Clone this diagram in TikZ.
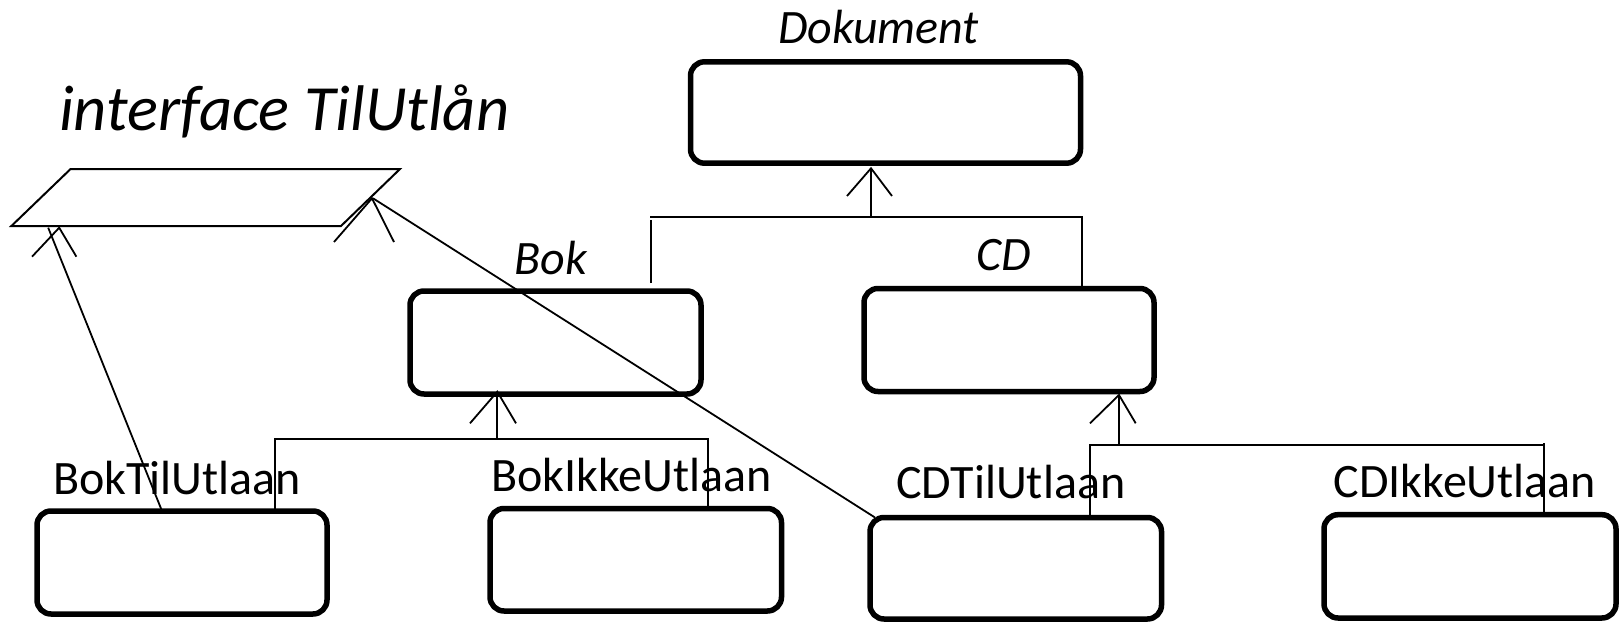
\documentclass[tikz,border=0pt]{standalone}
\usepackage{fontspec}
\setmainfont{Carlito}
\begin{document}
\begin{tikzpicture}[x=1pt,y=-1pt,
  cls/.style={draw, line width=5.5pt, rounded corners=14pt, inner sep=0pt, outer sep=0pt},
  conn/.style={line width=1.8pt},
  ifc/.style={line width=2pt, line join=miter},
  lbl/.style={inner sep=0pt, anchor=base west, font=\fontsize{48}{56}\selectfont},
  ilbl/.style={inner sep=0pt, anchor=base west, font=\fontsize{48}{56}\selectfont\itshape},
]
\useasboundingbox (0,0) rectangle (1619,621);

% class boxes
\node[cls, minimum width=390pt, minimum height=101.4pt] (dok) at (885.5,112.5) {};
\node[cls, minimum width=291pt, minimum height=103pt] (bok) at (555.5,342.5) {};
\node[cls, minimum width=290pt, minimum height=103pt] (cd) at (1009,340) {};
\node[cls, minimum width=290pt, minimum height=103pt] (btu) at (182,562.5) {};
\node[cls, minimum width=291.5pt, minimum height=102.5pt] (biu) at (635.75,559.75) {};
\node[cls, minimum width=291.5pt, minimum height=101.5pt] (ctu) at (1015.75,568.25) {};
\node[cls, minimum width=292pt, minimum height=103.3pt] (ciu) at (1470,566.35) {};

% class names
\node[ilbl] (dokl) at (778,43.3) {Dokument};
\node[ilbl] (bokl) at (514.5,274) {Bok};
\node[ilbl] (cdl) at (976.5,270) {CD};
\node[lbl] (btul) at (53,494) {BokTilUtlaan};
\node[lbl] (biul) at (491,491.7) {BokIkkeUtlaan};
\node[lbl] (ctul) at (896,498.3) {CDTilUtlaan};
\node[lbl] (ciul) at (1333.5,497.3) {CDIkkeUtlaan};
\node[inner sep=0pt, anchor=base west, font=\fontsize{64.5}{72}\selectfont\itshape] (ifl) at (59,130) {interface TilUtlån};

% interface shape
\coordinate (ifTL) at (70.6,169);
\coordinate (ifTR) at (400,169);
\coordinate (ifBR) at (341,226);
\coordinate (ifBL) at (11.4,226);
\draw[ifc] (ifTL) -- (ifTR) -- (ifBR) -- (ifBL) -- cycle;

% realisation lines to the interface
\coordinate (ifL) at (48.2,227.7);
\coordinate (ifLtip) at (59.2,227.7);
\coordinate (ifR) at (373,198.3);
\coordinate (ifRtip) at (372,198.3);
\draw[conn] ([xshift=-20pt]btu.north) -- (ifL);
\draw[conn] ([shift={(-27.2,29)}]ifLtip) -- (ifLtip) -- ([shift={(17.2,29)}]ifLtip);
\draw[conn] ([xshift=5pt]ctu.north west) -- (ifR);
\draw[conn] ([shift={(-38,43.7)}]ifRtip) -- (ifRtip) -- ([shift={(22,43.7)}]ifRtip);

% Bok, CD -> Dokument
\coordinate (dokL) at (651,216.7);
\coordinate (dokR) at (1081.7,216.7);
\coordinate (bokrise) at (651,283);
\coordinate (dokstem) at (871,216.7);
\coordinate (doktip) at (871,168.3);
\draw[conn] (bokrise) -- ([yshift=-3.7pt]dokL);
\draw[conn] ([xshift=-1pt]dokL) -- (dokR) -- (dokR |- cd.north);
\draw[conn] (dokstem) -- (doktip);
\draw[conn] ([shift={(-24,27.7)}]doktip) -- (doktip) -- ([shift={(21,27.7)}]doktip);

% BokTilUtlaan, BokIkkeUtlaan -> Bok
\coordinate (bokbL) at (275.3,439.3);
\coordinate (bokbR) at (708.3,439.3);
\coordinate (bokstem) at (497.3,439.3);
\coordinate (boktip) at (497.3,391.7);
\draw[conn] (bokbL |- btu.north) -- (bokbL) -- (bokbR) -- (bokbR |- biu.north);
\draw[conn] (bokstem) -- (boktip);
\draw[conn] ([shift={(-27.3,31.6)}]boktip) -- (boktip) -- ([shift={(18.7,31.6)}]boktip);

% CDTilUtlaan, CDIkkeUtlaan -> CD
\coordinate (cdbL) at (1090,445);
\coordinate (cdbR) at (1544,445);
\coordinate (cdstem) at (1119,445);
\coordinate (cdtip) at (1119,395);
\draw[conn] (cdbL |- ctu.north) -- (cdbL) -- (cdbR);
\draw[conn] ([yshift=1.7pt]cdbR) -- (cdbR |- ciu.north);
\draw[conn] (cdstem) -- (cdtip);
\draw[conn] ([shift={(-29,28.3)}]cdtip) -- (cdtip) -- ([shift={(16.7,28.3)}]cdtip);
\end{tikzpicture}
\end{document}
